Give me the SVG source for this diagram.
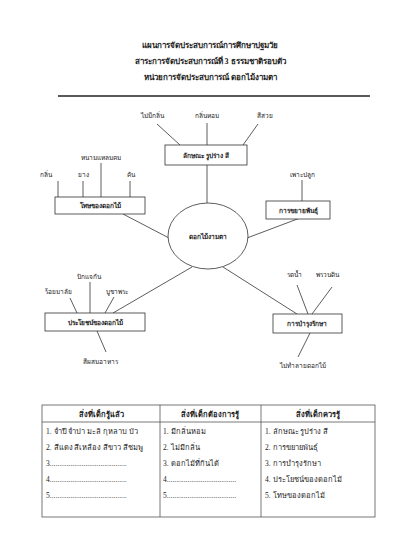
<svg xmlns="http://www.w3.org/2000/svg" width="400" height="554" viewBox="0 0 400 554">
<style>
text{font-family:"Liberation Serif","Noto Sans",serif;fill:#222;text-anchor:middle}
.t{font-size:8px;font-weight:bold}
.b{font-size:6.5px;font-weight:bold}
.l{font-size:6.5px}
.r{font-size:7.5px;text-anchor:start}
.h{font-size:7.5px;font-weight:bold}
.ln{stroke:#333;stroke-width:0.8;fill:none}
.bx{stroke:#333;stroke-width:0.8;fill:#fff}
</style>
<rect width="400" height="554" fill="#fff"/>
<g id="title">
<text class="t" x="210" y="48">แผนการจัดประสบการณ์การศึกษาปฐมวัย</text>
<text class="t" x="210" y="64">สาระการจัดประสบการณ์ที่ 3 ธรรมชาติรอบตัว</text>
<text class="t" x="210" y="80">หน่วยการจัดประสบการณ์ ดอกไม้งามตา</text>
<line x1="58" y1="96" x2="370" y2="96" stroke="#222" stroke-width="1.6"/>
</g>
<g id="connectors" class="ln">
<line x1="157" y1="124" x2="180" y2="145"/>
<line x1="207" y1="123" x2="207" y2="145"/>
<line x1="258" y1="124" x2="243" y2="145"/>
<line x1="207" y1="165" x2="207" y2="203"/>
<line x1="58" y1="181" x2="58" y2="197"/>
<line x1="83" y1="181" x2="83" y2="197"/>
<line x1="101" y1="163" x2="101" y2="197"/>
<line x1="130" y1="181" x2="130" y2="197"/>
<line x1="123" y1="214" x2="169" y2="238"/>
<line x1="302" y1="180" x2="302" y2="201"/>
<line x1="300" y1="218" x2="247" y2="238"/>
<line x1="192" y1="267" x2="113" y2="313"/>
<line x1="70" y1="298" x2="77" y2="313"/>
<line x1="90" y1="282" x2="90" y2="313"/>
<line x1="114" y1="297" x2="105" y2="313"/>
<line x1="97" y1="331" x2="106" y2="352"/>
<line x1="223" y1="267" x2="297" y2="314"/>
<line x1="297" y1="285" x2="308" y2="314"/>
<line x1="332" y1="287" x2="312" y2="314"/>
<line x1="310" y1="333" x2="298" y2="357"/>
</g>
<g id="n-shape">
<rect class="bx" x="165" y="145" width="82" height="20"/>
<text class="b" x="206" y="157.5">ลักษณะ รูปร่าง สี</text>
<text class="l" x="152" y="118">ไม่มีกลิ่น</text>
<text class="l" x="207" y="118">กลิ่นหอม</text>
<text class="l" x="265" y="118">สีสวย</text>
</g>
<g id="n-harm">
<rect class="bx" x="55" y="197" width="90" height="17"/>
<text class="b" x="100" y="208">โทษของดอกไม้</text>
<text class="l" x="101" y="160">หนามแหลมคม</text>
<text class="l" x="46" y="177">กลิ่น</text>
<text class="l" x="83" y="177">ยาง</text>
<text class="l" x="131" y="177">คัน</text>
</g>
<g id="n-propagate">
<rect class="bx" x="266" y="201" width="64" height="18"/>
<text class="b" x="298" y="212.5">การขยายพันธุ์</text>
<text class="l" x="302" y="177">เพาะปลูก</text>
</g>
<g id="n-center">
<ellipse class="bx" cx="208" cy="236" rx="40" ry="33"/>
<text class="b" x="208" y="238.5">ดอกไม้งามตา</text>
</g>
<g id="n-benefit">
<rect class="bx" x="45" y="313" width="100" height="18"/>
<text class="b" x="95" y="324.5">ประโยชน์ของดอกไม้</text>
<text class="l" x="89" y="279">ปักแจกัน</text>
<text class="l" x="58" y="294">ร้อยมาลัย</text>
<text class="l" x="117" y="294">บูชาพระ</text>
<text class="l" x="100" y="364">สีผสมอาหาร</text>
</g>
<g id="n-care">
<rect class="bx" x="273" y="314" width="69" height="19"/>
<text class="b" x="307" y="326">การบำรุงรักษา</text>
<text class="l" x="294" y="277">รดน้ำ</text>
<text class="l" x="327" y="277">พรวนดิน</text>
<text class="l" x="303" y="368">ไม่ทำลายดอกไม้</text>
</g>
<g id="table">
<rect x="42" y="405" width="333" height="112" fill="none" stroke="#555" stroke-width="0.8"/>
<line x1="42" y1="422" x2="375" y2="422" stroke="#555" stroke-width="0.8"/>
<line x1="160" y1="405" x2="160" y2="517" stroke="#555" stroke-width="0.8"/>
<line x1="261" y1="405" x2="261" y2="517" stroke="#555" stroke-width="0.8"/>
<text class="h" x="101" y="417">สิ่งที่เด็กรู้แล้ว</text>
<text class="h" x="210" y="417">สิ่งที่เด็กต้องการรู้</text>
<text class="h" x="318" y="417">สิ่งที่เด็กควรรู้</text>
<text class="r" x="46" y="434">1. จำปี จำปา มะลิ กุหลาบ บัว</text>
<text class="r" x="46" y="450">2. สีแดง สีเหลือง สีขาว สีชมพู</text>
<text class="r" x="46" y="466">3.........................................</text>
<text class="r" x="46" y="482">4.........................................</text>
<text class="r" x="46" y="498">5.........................................</text>
<text class="r" x="163" y="434">1. มีกลิ่นหอม</text>
<text class="r" x="163" y="450">2. ไม่มีกลิ่น</text>
<text class="r" x="163" y="466">3. ดอกไม้ที่กินได้</text>
<text class="r" x="163" y="482">4.....................................</text>
<text class="r" x="163" y="498">5.....................................</text>
<text class="r" x="265" y="434">1. ลักษณะ รูปร่าง สี</text>
<text class="r" x="265" y="450">2. การขยายพันธุ์</text>
<text class="r" x="265" y="466">3. การบำรุงรักษา</text>
<text class="r" x="265" y="482">4. ประโยชน์ของดอกไม้</text>
<text class="r" x="265" y="498">5. โทษของดอกไม้</text>
</g>
</svg>
